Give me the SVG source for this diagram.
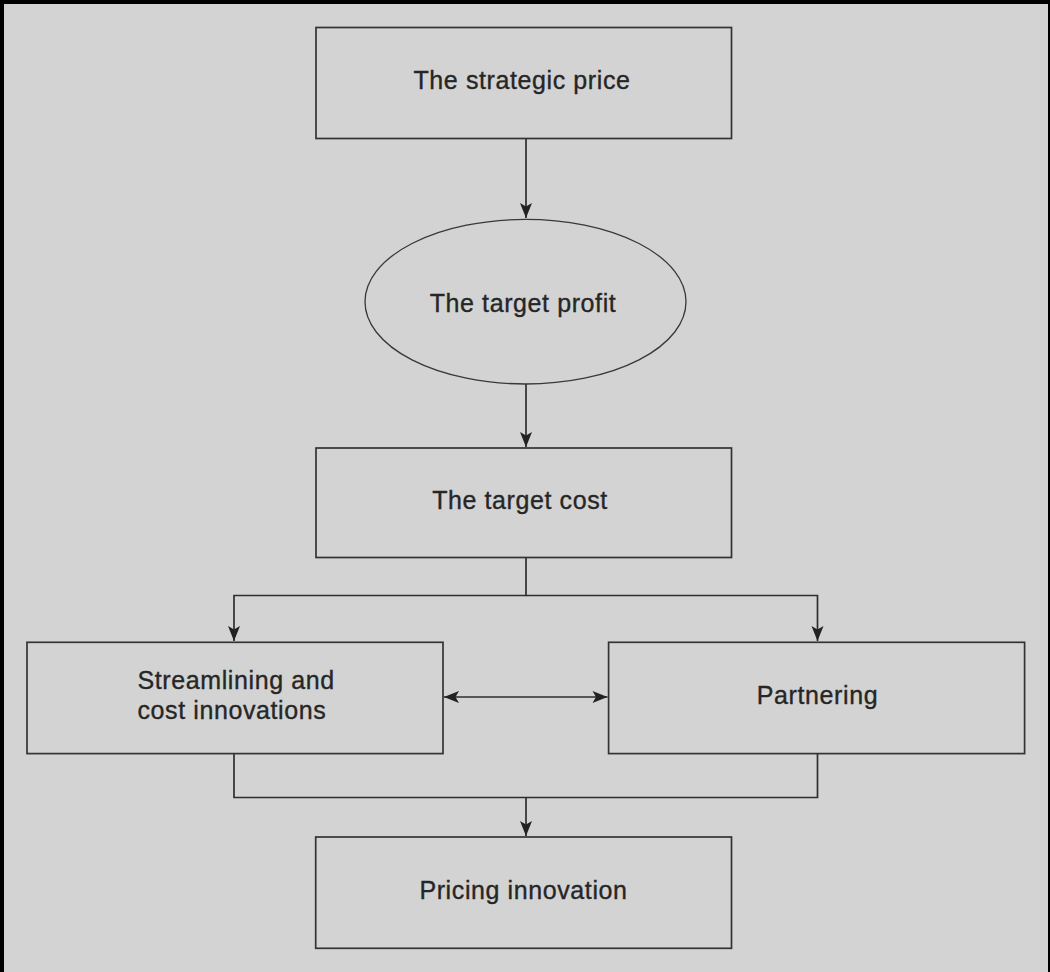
<svg xmlns="http://www.w3.org/2000/svg" width="1050" height="972" viewBox="0 0 1050 972">
<defs>
<marker id="ah" viewBox="-16 -7 17 14" refX="0" refY="0" markerWidth="17" markerHeight="14" markerUnits="userSpaceOnUse" orient="auto-start-reverse">
<path d="M0,0 L-15,-6 L-11.5,0 L-15,6 Z" fill="#222"/>
</marker>
</defs>
<style>
.box{fill:#d3d3d3;stroke:#333;stroke-width:1.7}
.ell{fill:#d3d3d3;stroke:#383838;stroke-width:1.3}
.lbl{font-family:"Liberation Sans",Arial,sans-serif;font-size:25px;letter-spacing:0.6px;fill:#262626;stroke:#262626;stroke-width:0.35}
.c{text-anchor:middle}
.con{fill:none;stroke:#2e2e2e;stroke-width:1.7}
</style>
<rect x="0" y="0" width="1050" height="972" fill="#000"/>
<rect x="4" y="4" width="1044" height="968" fill="#d3d3d3"/>
<g id="connectors">
<path class="con" d="M526,138 V218" marker-end="url(#ah)"/>
<path class="con" d="M526,384 V447" marker-end="url(#ah)"/>
<path class="con" d="M526,557 V595.5 H234 V641" marker-end="url(#ah)"/>
<path class="con" d="M526,595.5 H817.5 V641" marker-end="url(#ah)"/>
<path class="con" d="M444,697 H607.5" marker-start="url(#ah)" marker-end="url(#ah)"/>
<path class="con" d="M234,753.5 V797.5 H817.5 V753.5"/>
<path class="con" d="M526,797.5 V836" marker-end="url(#ah)"/>
</g>
<g id="node-strategic-price">
<rect class="box" x="316" y="27.5" width="415.5" height="111"/>
<text class="lbl c" x="522" y="89">The strategic price</text>
</g>
<g id="node-target-profit">
<ellipse class="ell" cx="525.5" cy="301.7" rx="160.5" ry="82.3"/>
<text class="lbl c" x="523" y="311.5">The target profit</text>
</g>
<g id="node-target-cost">
<rect class="box" x="316" y="448" width="415.5" height="109.5"/>
<text class="lbl c" x="520" y="509">The target cost</text>
</g>
<g id="node-streamlining">
<rect class="box" x="27" y="642.3" width="416" height="111.3"/>
<text class="lbl" x="137.5" y="689.3">Streamlining and</text>
<text class="lbl" x="137.5" y="718.7">cost innovations</text>
</g>
<g id="node-partnering">
<rect class="box" x="608.6" y="642.3" width="416" height="111.3"/>
<text class="lbl c" x="817.5" y="704">Partnering</text>
</g>
<g id="node-pricing-innovation">
<rect class="box" x="315.7" y="837" width="415.8" height="111.3"/>
<text class="lbl c" x="523.5" y="899.3">Pricing innovation</text>
</g>
</svg>
